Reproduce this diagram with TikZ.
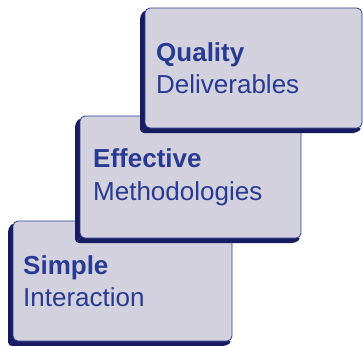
\documentclass[tikz,border=0pt]{standalone}
\usepackage{fontspec}
\setmainfont{Liberation Sans}
\definecolor{boxfill}{RGB}{210,209,221}
\definecolor{boxline}{RGB}{45,60,145}
\definecolor{boxshade}{RGB}{22,28,95}
\definecolor{txt}{RGB}{40,58,145}
\begin{document}
\begin{tikzpicture}[x=1bp,y=-1bp,
  shade3d/.style={fill=boxshade, rounded corners=4bp},
  face/.style={draw=boxline, fill=boxfill, line width=0.8bp, rounded corners=5bp},
  edge3d/.style={draw=boxline, line width=0.6bp},
  title/.style={anchor=base west, inner sep=0pt, text=txt, font=\fontsize{26bp}{30bp}\selectfont\bfseries},
  sub/.style={anchor=base west, inner sep=0pt, text=txt, font=\fontsize{26bp}{30bp}\selectfont}]
\useasboundingbox (0,0) rectangle (363,346);
% box 1
\fill[shade3d] (14,222) -- (8,228) -- (8,346) -- (227,346) -- (232.5,340.5) -- (14,340.5) -- cycle;
\draw[face] (13,221) rectangle (232,341);
\draw[edge3d] (14.5,339.5) -- (9.5,344.5);
\node[title] (s1) at (23,274) {Simple};
\node[sub] (s2) at (23,306) {Interaction};
% box 2
\fill[shade3d] (81,117) -- (75,123) -- (75,243) -- (296,243) -- (301.5,237.5) -- (81,237.5) -- cycle;
\draw[face] (80,116) rectangle (301,238);
\draw[edge3d] (81.5,236.5) -- (76.5,241.5);
\node[title] (e1) at (93,167) {Effective};
\node[sub] (e2) at (93,200) {Methodologies};
% box 3
\fill[shade3d] (146,9) -- (140,15) -- (140,133) -- (357,133) -- (362.5,127.5) -- (146,127.5) -- cycle;
\draw[face] (145,8) rectangle (362,128);
\draw[edge3d] (146.5,126.5) -- (141.5,131.5);
\node[title] (q1) at (156,61) {Quality};
\node[sub] (q2) at (156,93) {Deliverables};
\end{tikzpicture}
\end{document}
